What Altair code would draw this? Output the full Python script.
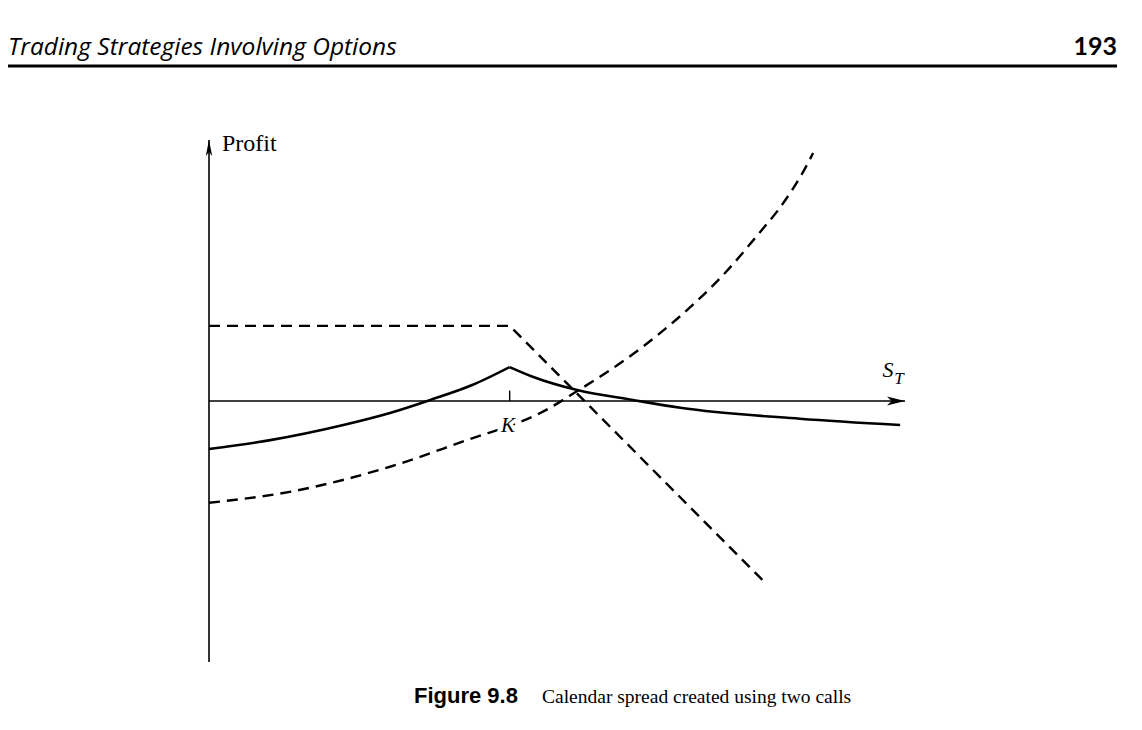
import altair as alt
import pandas as pd

# ---- data (x = S_T, y = profit, arbitrary units) ----
K = 43.2

# net calendar spread (solid): left and right of the strike
spread_left_x = [0, 8.8, 19.3, 26.0, 31.8, 37.9, 43.2]
spread_left_y = [-9.2, -7.5, -4.6, -2.3, 0.2, 3.1, 6.5]
spread_right_x = [43.2, 46.6, 52.9, 60.9, 67.7, 84.9, 99.3]
spread_right_y = [6.5, 4.6, 2.1, 0.2, -1.3, -3.4, -4.6]

# short (near-term) call (dashed, kinked)
short_x = [0, 43.2, 80.2]
short_y = [14.4, 14.4, -35.2]

# long (longer-term) call (dashed, convex)
long_x = [0, 11.6, 26.0, 37.9, 44.7, 47.6, 52.9, 60.1, 64.8, 69.5, 74.4, 78.7, 82.5, 85.2, 86.8]
long_y = [-19.5, -17.4, -12.6, -7.1, -4.0, -2.3, 1.9, 8.2, 13.0, 18.4, 24.9, 31.6, 37.9, 43.5, 47.5]

x_domain = [0, 100]
y_domain = [-50, 50]

header_left = "Trading Strategies Involving Options"
header_right = "193"
caption_bold = "Figure 9.8"
caption_text = "Calendar spread created using two calls"
y_label = "Profit"
x_label_main = "S"
x_label_sub = "T"
k_label_text = "K"

# ---- tables ----
spread_df = pd.concat([
    pd.DataFrame({"x": spread_left_x, "y": spread_left_y, "seg": "left"}),
    pd.DataFrame({"x": spread_right_x, "y": spread_right_y, "seg": "right"}),
])
short_df = pd.DataFrame({"x": short_x, "y": short_y})
long_df = pd.DataFrame({"x": long_x, "y": long_y})

xs = alt.Scale(domain=x_domain, nice=False, zero=False)
ys = alt.Scale(domain=y_domain, nice=False, zero=False)
X = lambda f="x": alt.X(f, type="quantitative", scale=xs, axis=None)
Y = lambda f="y": alt.Y(f, type="quantitative", scale=ys, axis=None)

x_axis = alt.Chart(pd.DataFrame({"x": [x_domain[0]], "x2": [x_domain[1]], "y": [0]})).mark_rule(
    color="black", strokeWidth=1.6).encode(x=X("x"), x2="x2", y=Y("y"))
y_axis = alt.Chart(pd.DataFrame({"x": [x_domain[0]], "y": [y_domain[0]], "y2": [y_domain[1]]})).mark_rule(
    color="black", strokeWidth=1.6).encode(x=X("x"), y=Y("y"), y2="y2")

# arrowheads with their tips at the end of each axis
arrow_right = alt.Chart(pd.DataFrame({"x": [x_domain[1]], "y": [0]})).mark_point(
    shape="M0,0L-2,0.5L-1.5,0L-2,-0.5Z", filled=True, color="black", opacity=1, size=324
).encode(x=X(), y=Y())
arrow_up = alt.Chart(pd.DataFrame({"x": [x_domain[0]], "y": [y_domain[1]]})).mark_point(
    shape="M0,0L0.4,2L0,1.5L-0.4,2Z", filled=True, color="black", opacity=1, size=256
).encode(x=X(), y=Y())

k_tick = alt.Chart(pd.DataFrame({"x": [K], "y": [0], "y2": [2.0]})).mark_rule(
    color="black", strokeWidth=1.4).encode(x=X(), y=Y(), y2="y2")

spread_line = alt.Chart(spread_df).mark_line(
    color="black", strokeWidth=2.6, interpolate="monotone").encode(x=X(), y=Y(), detail="seg:N")
short_line = alt.Chart(short_df).mark_line(
    color="black", strokeWidth=2.4, strokeDash=[11, 7]).encode(x=X(), y=Y())
long_line = alt.Chart(long_df).mark_line(
    color="black", strokeWidth=2.4, strokeDash=[11, 7], interpolate="monotone").encode(x=X(), y=Y())

def txt(s, x, y, **kw):
    return alt.Chart(pd.DataFrame({"t": [s]})).mark_text(**kw).encode(
        text="t:N", x=alt.value(x), y=alt.value(y))

serif = "Liberation Serif"
k_halo = txt(k_label_text, 299, 292, font=serif, fontSize=21, fontStyle="italic", align="center",
             baseline="alphabetic", color="white", stroke="white", strokeWidth=7)
k_label = txt(k_label_text, 299, 292, font=serif, fontSize=21, fontStyle="italic", align="center", baseline="alphabetic")
s_label = txt(x_label_main, 679, 237, font=serif, fontSize=22, fontStyle="italic", align="center", baseline="alphabetic")
t_label = txt(x_label_sub, 690, 244, font=serif, fontSize=17, fontStyle="italic", align="center", baseline="alphabetic")
profit_label = txt(y_label, 13, 11, font=serif, fontSize=24, align="left", baseline="alphabetic")

head_l = txt(header_left, -201, -85, font="Open Sans", fontSize=24.5, fontStyle="italic", align="left", baseline="alphabetic")
head_r = txt(header_right, 908, -85, font="Lato", fontSize=25, fontWeight="bold", align="right", baseline="alphabetic")
head_rule = alt.Chart(pd.DataFrame({"a": [0]})).mark_rule(color="black", strokeWidth=3).encode(
    x=alt.value(-201), x2=alt.value(908), y=alt.value(-74))

cap_b = txt(caption_bold, 205, 563, font="Liberation Sans", fontSize=22, fontWeight="bold", align="left", baseline="alphabetic")
cap_t = txt(caption_text, 333, 563, font=serif, fontSize=19.5, align="left", baseline="alphabetic")

chart = alt.layer(
    x_axis, y_axis, arrow_right, arrow_up, k_tick,
    short_line, long_line, spread_line,
    k_halo, k_label, s_label, t_label, profit_label,
    head_l, head_r, head_rule, cap_b, cap_t,
).properties(
    width=696, height=522,
    padding={"left": 201, "top": 132, "right": 223, "bottom": 46},
    autosize=alt.AutoSizeParams(type="none"),
    background="white",
).configure_view(stroke=None)

chart.save("out.html", embed_options={"renderer": "svg", "actions": False})
